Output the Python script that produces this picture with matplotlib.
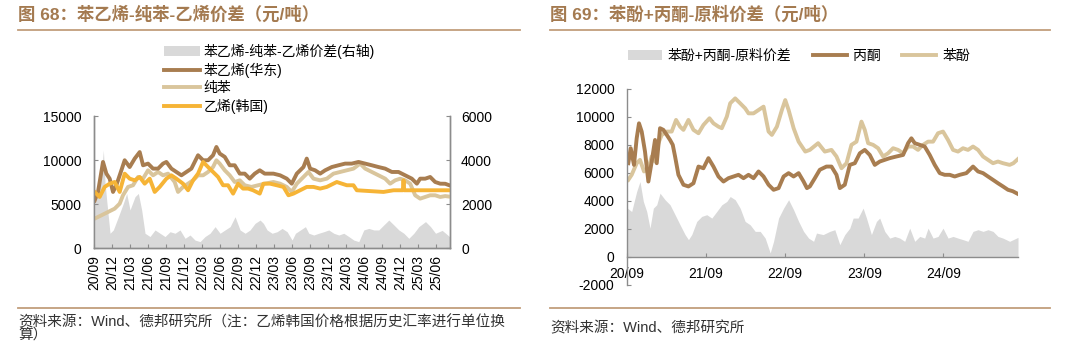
import matplotlib
matplotlib.use("Agg")
import matplotlib.pyplot as plt
from matplotlib.patches import Patch
from matplotlib.lines import Line2D

plt.rcParams['font.family'] = ['Liberation Sans', 'Noto Sans CJK SC', 'DejaVu Sans']
plt.rcParams['axes.unicode_minus'] = False

# ---------------- data: Fig 68 (months since 2020-09) ----------------
styrene_m = [0.11,0.67,1.5,2.06,2.61,3.17,3.72,4.56,5.11,5.94,6.78,7.61,8.17,9.0,9.83,10.67,11.5,12.06,12.89,13.72,
             14.56,15.39,16.22,17.33,18.17,19.0,19.83,20.39,20.94,21.78,22.61,23.44,24.28,25.11,25.94,26.78,27.61,28.44,
             29.89,31.0,32.11,32.94,33.78,34.89,35.44,36.0,36.83,37.67,38.5,39.61,40.72,41.83,42.94,44.06,45.17,46.28,
             47.39,48.5,49.61,50.72,51.83,52.94,53.78,54.33,55.17,56.0,56.83,57.67,58.5,59.3]
styrene = [5400,6370,9780,8450,7880,6370,7130,8830,9970,9200,10160,10900,9400,9590,9020,9020,9590,9780,9020,8640,
           8260,8640,9020,10540,9970,9970,10540,11480,10730,10350,9400,9400,8450,8450,7880,8450,8830,8450,
           8450,8260,7880,7310,8450,9200,10160,9020,8830,8450,8830,9200,9400,9590,9590,9780,9590,9400,
           9200,9020,8640,8640,8260,7880,7310,7880,7880,8070,7500,7310,7300,7100]

benzene_m = [0.11,1.22,2.33,3.44,4.28,4.83,5.67,6.5,7.33,8.17,9.0,9.83,10.67,11.5,12.33,13.44,14.0,14.83,15.67,16.5,
             17.33,18.17,19.0,19.83,20.39,20.94,21.78,22.61,23.44,24.28,25.11,26.22,27.33,28.44,
             29.89,31.0,32.11,32.94,33.78,34.89,35.72,36.56,37.67,38.78,39.89,41.0,42.11,43.22,44.33,45.17,46.28,
             47.39,48.5,49.33,50.17,51.0,51.83,52.67,53.5,54.33,55.17,56.0,56.83,57.67,58.5,59.3]
benzene = [3340,3710,4090,4470,5040,5990,6940,7130,8070,7880,8830,8260,8640,8260,8450,7500,6370,6940,7310,7690,
           8260,8260,8640,9200,9970,9590,8830,8260,7500,7690,7130,6940,7130,7310,
           7500,7310,6940,6370,7310,8070,8640,7880,7690,7880,8450,8640,8830,9020,9590,9020,8640,
           8260,7880,7310,7690,7880,7690,7310,5990,5610,5800,5990,5990,5800,5900,5830]

ethylene_m = [0.11,0.94,1.78,2.61,3.44,4.28,5.11,5.94,6.78,7.61,8.44,9.28,10.11,10.94,12.06,12.89,13.72,14.83,15.67,16.5,
              17.33,18.17,19.0,19.83,20.67,21.5,22.33,23.17,24.0,24.83,25.67,26.5,27.61,28.22,29.33,30.44,31.56,32.39,
              33.22,34.33,35.44,36.56,37.67,38.78,40.44,42.11,43.22,43.78,48.22,49.89,51.44,51.56,51.67,59.3]
ethylene = [6370,5800,6940,7310,7500,6370,8450,7880,7690,8070,7310,7880,6370,6940,7880,8260,7880,7310,6560,7690,
            8450,9780,9200,8640,8070,7130,7130,6180,7310,6750,6750,6560,6180,7310,7310,7130,6940,5990,
            6180,6560,6940,6940,6750,6940,7500,7130,7130,6560,6370,6560,6560,7690,6560,6560]

spread68_m = [0.17,0.72,1.28,1.56,1.83,2.11,2.67,3.22,4.06,4.89,5.44,6.0,6.83,7.39,7.94,8.5,9.33,10.17,11.0,11.83,
              12.67,13.5,14.33,15.17,16.0,16.83,17.67,18.5,19.33,20.17,21.0,21.83,22.67,23.5,24.33,25.17,26.0,26.83,
              27.67,28.22,28.83,29.67,30.5,31.33,32.17,33.0,33.56,34.39,35.22,35.78,36.61,37.44,38.28,39.11,39.94,
              40.78,41.61,42.44,43.28,44.11,44.94,45.78,46.61,47.44,48.28,49.11,49.94,50.78,51.61,52.44,53.28,54.11,
              55.22,56.06,56.89,58.0,59.3]
spread68 = [2180,2940,3500,4450,3000,2180,670,820,1420,2030,2480,1730,2330,2480,1730,670,520,820,670,520,
            740,670,820,440,590,360,290,520,670,970,670,820,970,1420,820,670,820,1120,
            1270,1120,820,670,740,890,740,360,670,820,970,670,590,670,740,820,670,
            590,670,520,360,290,820,890,820,820,1050,1270,1050,820,670,440,670,970,
            1200,970,670,800,500]

ticks68 = ['20/09','20/12','21/03','21/06','21/09','21/12','22/03','22/06','22/09','22/12',
           '23/03','23/06','23/09','23/12','24/03','24/06','24/09','24/12','25/03','25/06']

# ---------------- data: Fig 69 ----------------
phenol_m = [0.2,0.71,1.47,1.97,2.58,3.24,3.75,4.25,4.76,5.27,6.03,6.78,7.44,8.05,8.56,9.32,10.08,10.84,11.59,12.51,
            13.11,13.87,14.38,15.14,15.65,16.41,17.16,17.92,18.43,19.19,19.95,20.71,21.47,21.97,22.73,23.49,24.0,
            24.51,25.27,26.03,27.04,27.73,28.99,30.0,31.01,31.77,32.53,33.29,34.04,34.8,35.56,36.06,36.57,37.33,
            38.08,38.84,39.6,40.36,41.11,41.87,42.63,43.39,44.14,44.9,45.66,46.42,47.17,47.93,48.69,49.45,50.2,
            50.96,51.72,52.48,53.24,54.0,54.75,55.51,56.26,57.02,58.03,58.6,59.3]
phenol = [5510,5870,6700,6940,6110,6340,7180,6820,8130,8720,8960,8960,9790,9310,9080,9790,9080,8840,9430,9910,
          9550,9310,9200,10030,10980,11330,10980,10620,10260,10260,10500,10740,8960,8720,9310,10500,11210,
          10500,9200,8240,7530,7650,8130,7530,7650,7180,6340,6700,8010,8240,9670,9080,8130,8010,
          7770,7180,7410,7770,7650,7410,7890,7890,7650,8010,8240,8240,8840,8960,8360,7650,7530,
          7770,7650,7890,7650,7180,6940,6700,6820,6700,6580,6700,7000]

acetone_m = [0.2,0.56,1.06,1.47,1.82,2.23,2.73,3.24,3.75,4.25,4.51,5.01,5.52,6.03,6.53,6.94,7.29,7.8,8.56,9.32,
             10.08,10.84,11.59,12.35,13.11,13.87,14.63,15.39,16.15,16.91,17.67,18.43,19.19,19.95,20.71,21.47,22.23,
             22.99,23.75,24.51,25.27,26.03,26.78,27.29,27.73,28.49,29.24,30.25,31.01,31.77,32.28,33.03,33.79,34.55,
             35.31,36.06,36.82,37.58,38.34,39.09,39.85,40.86,41.87,42.63,43.13,43.64,44.4,45.15,45.91,46.67,47.43,
             48.18,48.94,49.7,50.46,51.47,52.48,53.24,54.0,54.75,55.51,56.26,57.02,57.78,58.5,59.3]
acetone = [6700,7770,6580,8480,9550,8960,7530,5390,6820,8360,6700,9200,9080,8720,8360,8010,7180,5870,5160,5040,
           5270,6460,6340,7060,6460,5750,5390,5630,5750,5870,5630,5870,5630,6110,5750,5160,4800,
           4920,5750,5990,5750,5990,5390,4920,5040,5630,6230,6460,6460,5870,4920,5160,6580,6700,
           7410,7650,7290,6580,6820,6940,7060,7180,7290,8130,8480,8130,8010,7890,7290,6580,5990,
           5870,5870,5750,5870,5990,6460,6110,5990,5750,5510,5270,5040,4800,4700,4500]

spread69_m = [0.05,0.71,1.47,1.97,2.48,2.99,3.49,4.0,4.51,5.01,5.77,6.53,7.29,8.05,8.81,9.32,9.82,10.58,11.34,12.1,
              12.86,13.62,14.38,15.14,15.65,16.41,17.16,17.92,18.68,19.44,20.2,20.96,21.72,22.23,22.99,23.75,24.51,
              25.27,26.03,26.78,27.54,28.3,28.74,29.75,30.76,31.52,32.28,33.03,33.79,34.3,35.05,35.81,36.32,37.07,
              37.83,38.33,39.09,39.85,40.61,41.37,42.12,42.88,43.64,44.4,45.15,45.66,46.42,47.17,47.93,48.69,49.45,
              50.2,50.96,51.72,52.48,53.24,54.0,54.75,55.51,56.26,57.02,58.03,59.3]
spread69 = [3490,3250,4680,5390,3970,3250,2060,3490,3730,4560,4090,3730,3020,2300,1600,1240,1600,2540,2900,3020,
            2780,3250,3730,3970,4320,4090,3490,2540,2300,1830,1830,1350,290,1120,2780,3490,4090,
            3370,2540,1830,1350,1120,1710,1600,1830,1950,880,1600,2060,2780,2780,3490,2780,1600,
            2540,2780,1830,1350,1470,1350,1120,2060,1120,1470,1350,2060,1350,1470,2060,1350,1470,
            1350,1240,1120,1830,1950,1830,1950,1830,1470,1350,1120,1400]

ticks69 = ['20/09', '21/09', '22/09', '23/09', '24/09']

# ---------------- style ----------------
C_BROWN = '#A87D50'
C_TAN = '#D9C59C'
C_ORANGE = '#F6B436'
C_GRAY = '#D9D9D9'
C_TITLE = '#A47A50'
C_RULE = '#C29E7C'
C_AX = '#8C8C8C'
LW = 2.8

W, H = 1080, 342
fig = plt.figure(figsize=(W / 100, H / 100), dpi=100)


def fx(px):
    return px / W


def fy(py):
    return 1 - py / H


# titles and rules
fig.text(fx(18), fy(14), '图 68：苯乙烯-纯苯-乙烯价差（元/吨）', color=C_TITLE, fontsize=12.5,
         fontweight='bold', va='center', ha='left')
fig.text(fx(550), fy(14), '图 69：苯酚+丙酮-原料价差（元/吨）', color=C_TITLE, fontsize=12.5,
         fontweight='bold', va='center', ha='left')
for x0, x1, yy in [(18, 520, 30), (550, 1050, 30), (18, 520, 308), (550, 1050, 308)]:
    fig.add_artist(Line2D([fx(x0), fx(x1)], [fy(yy), fy(yy)], color=C_RULE, lw=1.3,
                          transform=fig.transFigure))

fig.text(fx(18), fy(322), '资料来源：Wind、德邦研究所（注：乙烯韩国价格根据历史汇率进行单位换',
         fontsize=10.5, va='center', ha='left', color='#333333')
fig.text(fx(18), fy(335), '算）', fontsize=10.5, va='center', ha='left', color='#333333')
fig.text(fx(550), fy(328), '资料来源：Wind、德邦研究所', fontsize=10.5, va='center', ha='left',
         color='#333333')

# ---------------- Fig 68 ----------------
l, r, t, b = 94, 450, 116, 248
ax = fig.add_axes([fx(l), fy(b), fx(r - l), (b - t) / H])
ax2 = ax.twinx()
ax2.fill_between(spread68_m, 0, spread68, color=C_GRAY, lw=0)
ax.plot(benzene_m, benzene, color=C_TAN, lw=LW, solid_joinstyle='round')
ax.plot(styrene_m, styrene, color=C_BROWN, lw=LW, solid_joinstyle='round')
ax.plot(ethylene_m, ethylene, color=C_ORANGE, lw=LW, solid_joinstyle='round')
ax.set_zorder(ax2.get_zorder() + 1)
ax.patch.set_visible(False)

ax.set_xlim(0, 59.3)
ax.set_ylim(0, 15000)
ax2.set_ylim(0, 6000)
ax.set_yticks([0, 5000, 10000, 15000])
ax2.set_yticks([0, 2000, 4000, 6000])
ax.set_xticks([3 * i for i in range(len(ticks68))])
ax.set_xticklabels(ticks68, rotation=90)
for a in (ax, ax2):
    a.spines['top'].set_visible(False)
    for s in ('left', 'right', 'bottom'):
        a.spines[s].set_color(C_AX)
        a.spines[s].set_linewidth(1.0)
ax.tick_params(axis='y', direction='in', length=3, color=C_AX, labelsize=10, pad=9)
ax2.tick_params(axis='y', direction='in', length=3, color=C_AX, labelsize=10, pad=8)
ax.tick_params(axis='x', direction='in', length=3, color=C_AX, labelsize=10, pad=5)

handles68 = [Patch(facecolor=C_GRAY, edgecolor='none'),
             Line2D([], [], color=C_BROWN, lw=LW),
             Line2D([], [], color=C_TAN, lw=LW),
             Line2D([], [], color=C_ORANGE, lw=LW)]
labels68 = ['苯乙烯-纯苯-乙烯价差(右轴)', '苯乙烯(华东)', '纯苯', '乙烯(韩国)']
fig.legend(handles68, labels68, loc='upper left', bbox_to_anchor=(fx(164), fy(44)),
           frameon=False, fontsize=10, handlelength=2.6, handletextpad=0.25,
           labelspacing=0.25, borderpad=0, borderaxespad=0)

# ---------------- Fig 69 ----------------
l, r, t, b = 627, 1018, 89, 285
bx = fig.add_axes([fx(l), fy(b), fx(r - l), (b - t) / H])
bx.fill_between(spread69_m, 0, spread69, color=C_GRAY, lw=0)
bx.plot(phenol_m, phenol, color=C_TAN, lw=LW, solid_joinstyle='round')
bx.plot(acetone_m, acetone, color=C_BROWN, lw=LW, solid_joinstyle='round')
bx.set_xlim(0, 59.3)
bx.set_ylim(-2000, 12000)
bx.set_yticks(list(range(-2000, 12001, 2000)))
bx.set_xticks([12 * i for i in range(len(ticks69))])
bx.set_xticklabels(ticks69)
bx.spines['top'].set_visible(False)
bx.spines['right'].set_visible(False)
bx.spines['bottom'].set_position(('data', 0))
for s in ('left', 'bottom'):
    bx.spines[s].set_color(C_AX)
    bx.spines[s].set_linewidth(1.0)
bx.tick_params(axis='y', direction='in', length=3, color=C_AX, labelsize=10, pad=9)
bx.tick_params(axis='x', direction='in', length=3, color=C_AX, labelsize=10, pad=7)

handles69 = [Patch(facecolor=C_GRAY, edgecolor='none'),
             Line2D([], [], color=C_BROWN, lw=LW),
             Line2D([], [], color=C_TAN, lw=LW)]
labels69 = ['苯酚+丙酮-原料价差', '丙酮', '苯酚']
fig.legend(handles69, labels69, loc='center left', bbox_to_anchor=(fx(628), fy(56)),
           frameon=False, fontsize=10, ncol=3, handlelength=2.45, handletextpad=0.43,
           columnspacing=1.55, borderpad=0, borderaxespad=0)

fig.savefig('out.png', dpi=100)
